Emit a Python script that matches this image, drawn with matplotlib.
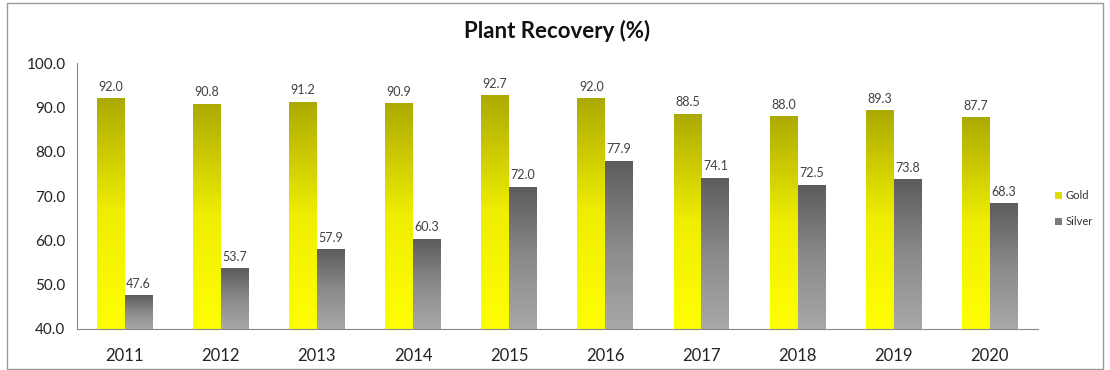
import numpy as np
import matplotlib.pyplot as plt
from matplotlib.colors import LinearSegmentedColormap
from matplotlib.patches import Rectangle

# Data
years = ['2011', '2012', '2013', '2014', '2015', '2016', '2017', '2018', '2019', '2020']
gold = [92.0, 90.8, 91.2, 90.9, 92.7, 92.0, 88.5, 88.0, 89.3, 87.7]
silver = [47.6, 53.7, 57.9, 60.3, 72.0, 77.9, 74.1, 72.5, 73.8, 68.3]

plt.rcParams['font.family'] = ['Lato', 'DejaVu Sans']

fig = plt.figure(figsize=(11.1, 3.7), dpi=100)
ax = fig.add_axes([0.069, 0.111, 0.866, 0.718])

# gradient colour maps (bottom -> top)
gold_cmap = LinearSegmentedColormap.from_list('gold', ['#ffff00', '#f0ee00', '#acaa00'])
silver_cmap = LinearSegmentedColormap.from_list('silver', ['#a8a8a8', '#8a8a8a', '#5c5c5c'])

ymin = 40.0
width = 0.29
x = np.arange(len(years))
grad = np.linspace(0, 1, 256).reshape(-1, 1)


def gradient_bar(xc, h, cmap):
    x0 = xc - width / 2
    ax.imshow(grad, cmap=cmap, origin='lower', aspect='auto',
              extent=(x0, x0 + width, ymin, h), zorder=2)


for i in range(len(years)):
    gradient_bar(x[i] - width / 2, gold[i], gold_cmap)
    gradient_bar(x[i] + width / 2, silver[i], silver_cmap)
    ax.text(x[i] - width / 2, gold[i] + 1.3, f'{gold[i]:.1f}', ha='center', va='bottom',
            fontsize=9, color='#404040')
    ax.text(x[i] + width / 2, silver[i] + 1.3, f'{silver[i]:.1f}', ha='center', va='bottom',
            fontsize=9, color='#404040')

ax.set_xlim(-0.5, len(years) - 0.5)
ax.set_ylim(ymin, 100)
ax.set_yticks(np.arange(40, 101, 10))
ax.set_yticklabels([f'{v:.1f}' for v in np.arange(40, 101, 10)], fontsize=11, color='#222222')
ax.set_xticks(x)
ax.set_xticklabels(years, fontsize=12, color='#222222')
ax.tick_params(length=0, pad=8)
ax.tick_params(axis='x', pad=14)

for s in ['top', 'right']:
    ax.spines[s].set_visible(False)
ax.spines['left'].set_color('#888888')
ax.spines['bottom'].set_color('#888888')

ax.set_title('Plant Recovery (%)', fontsize=16, fontweight='bold', color='#111111', pad=18)

# legend
fig.patches.append(Rectangle((0.9505, 0.462), 0.0065, 0.02, transform=fig.transFigure,
                             facecolor='#dede00', edgecolor='none'))
fig.text(0.960, 0.472, 'Gold', fontsize=8, va='center', color='#333333')
fig.patches.append(Rectangle((0.9505, 0.392), 0.0065, 0.02, transform=fig.transFigure,
                             facecolor='#7a7a7a', edgecolor='none'))
fig.text(0.960, 0.402, 'Silver', fontsize=8, va='center', color='#333333')

# chart border
fig.patches.append(Rectangle((0.006, 0.004), 0.988, 0.988, transform=fig.transFigure,
                             fill=False, edgecolor='#9a9a9a', lw=1))

fig.savefig('out.png', dpi=100)
